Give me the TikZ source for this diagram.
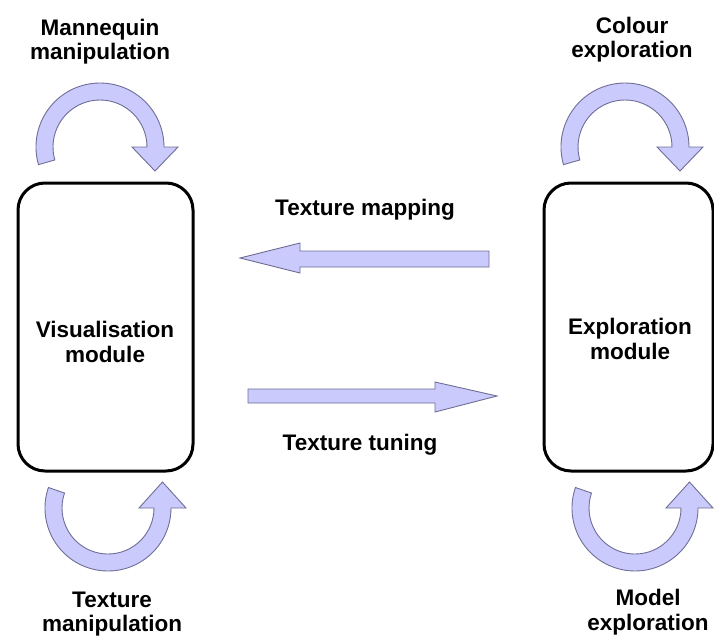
\documentclass[tikz,border=0pt]{standalone}
\usepackage{fontspec}
\setmainfont{Liberation Sans}
\usetikzlibrary{calc}
\definecolor{arrfill}{RGB}{202,202,252}
\definecolor{arrline}{RGB}{110,110,150}
\tikzset{
  modbox/.style={draw=black, line width=3pt, rounded corners=27pt, fill=white},
  lbl/.style={font=\fontsize{22.5}{24.5}\selectfont\bfseries, align=center, inner sep=0pt},
  fatarrow/.style={fill=arrfill, draw=arrline, line width=0.9pt, line join=miter},
}
% loop arrow above a box, pointing down at its right end
\newcommand\toploop[1]{%
  \draw[fatarrow] ($(#1)+(164:64)$) arc[start angle=164, end angle=360, radius=64]
    -- ($(#1)+(78,0)$) -- ($(#1)+(55,24)$) -- ($(#1)+(32,0)$) -- ($(#1)+(47,0)$)
    arc[start angle=360, end angle=164, radius=47] -- cycle;}
% loop arrow below a box, pointing up at its right end
\newcommand\botloop[1]{%
  \draw[fatarrow] ($(#1)+(199:63)$) arc[start angle=199, end angle=0, radius=63]
    -- ($(#1)+(78,0)$) -- ($(#1)+(54.5,-26)$) -- ($(#1)+(31,0)$) -- ($(#1)+(46,0)$)
    arc[start angle=0, end angle=199, radius=46] -- cycle;}
\begin{document}
\begin{tikzpicture}[x=1pt, y=-1pt]
\useasboundingbox (0,0) rectangle (714,637);

% boxes
\node[modbox, minimum width=175pt, minimum height=288pt] (vis) at (105.5,327) {};
\node[modbox, minimum width=169pt, minimum height=288pt] (exp) at (628.5,327) {};
\node[lbl] (vistxt) at (105,342) {Visualisation\\module};
\node[lbl] (exptxt) at (630,339) {Exploration\\module};

% loop arrows
\coordinate (tl) at (100,147);
\coordinate (tr) at (625,147);
\coordinate (bl) at (108,508);
\coordinate (br) at (635,508);
\toploop{tl}
\toploop{tr}
\botloop{bl}
\botloop{br}

% loop labels
\node[lbl] (mann) at (100,41.5) {Mannequin\\manipulation};
\node[lbl] (colo) at (632,39.5) {Colour\\exploration};
\node[lbl] (texm) at (112,614) {Texture\\manipulation};
\node[lbl] (mode) at (648,612) {Model\\exploration};

% texture mapping arrow (to the left)
\coordinate (mapS) at (489,259);
\coordinate (mapE) at (240,258);
\draw[fatarrow] (mapS |- 0,251) -- (300,251) -- (300,243) -- (mapE) -- (300,273) -- (300,267) -- (mapS |- 0,267) -- cycle;
\node[lbl] (mapl) at (365,209.5) {Texture mapping};

% texture tuning arrow (to the right)
\coordinate (tunS) at (248,396);
\coordinate (tunE) at (497,396);
\draw[fatarrow] (tunS |- 0,389) -- (435,389) -- (435,382) -- (tunE) -- (435,412) -- (435,403) -- (tunS |- 0,403) -- cycle;
\node[lbl] (tunl) at (360,444.5) {Texture tuning};
\end{tikzpicture}
\end{document}
